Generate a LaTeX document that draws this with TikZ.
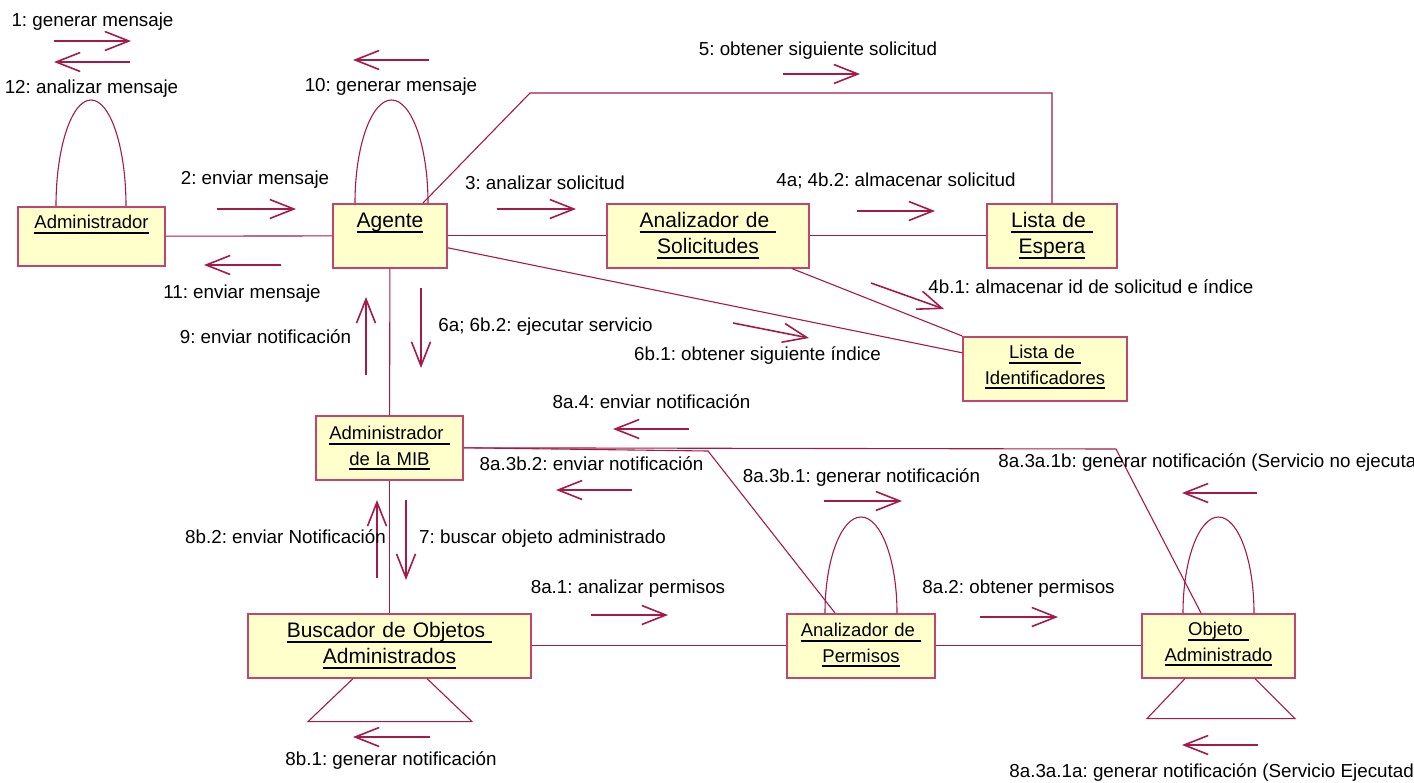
\documentclass[tikz,border=0pt]{standalone}
\usepackage{fontspec}
\setmainfont{Liberation Sans}
\usepackage{xcolor}
\usepackage{tikz}
\usetikzlibrary{arrows.meta}
\frenchspacing

\definecolor{linkred}{RGB}{165,25,75}
\definecolor{boxedge}{RGB}{192,70,110}
\definecolor{boxfill}{RGB}{255,255,204}

% underlined object name, the rule sits a bit below the baseline
\newcommand{\ulin}[1]{\leavevmode\setbox0=\hbox{#1}\rlap{\rule[-2.5pt]{\wd0}{1pt}}\box0}

\begin{document}
\begin{tikzpicture}[x=0.5pt, y=-0.5pt]

% Define styles
\tikzset{
    object/.style={draw=boxedge, fill=boxfill, line width=0.8pt, anchor=north, inner sep=0pt, align=center, text height=12pt, text depth=20pt, font=\fontsize{10.5}{13}\selectfont},
    smallobj/.style={object, font=\fontsize{9.25}{12.75}\selectfont},
    link/.style={draw=linkred, line width=0.55pt},
    msg/.style={draw=linkred, line width=0.8pt, -{Straight Barb[length=12pt, width=9.5pt]}},
    msglabel/.style={anchor=base, inner sep=0pt, font=\fontsize{9.4}{11}\selectfont}
}

\useasboundingbox (0,0) rectangle (1414,782);

% objects
\node[smallobj, text width=73.5pt, text height=11pt, text depth=18.5pt] (adm) at (91.5,206) {\ulin{Administrador}};
\node[object, text width=57pt] (agente) at (390,203) {\ulin{Agente}};
\node[object, text width=101pt] (anaSol) at (708,203) {\ulin{Analizador de }\\\ulin{Solicitudes}};
\node[object, text width=65pt] (listaEsp) at (1052,203) {\ulin{Lista de }\\\ulin{Espera}};
\node[smallobj, text width=82pt, text height=11pt, text depth=21pt] (listaId) at (1045,336) {\ulin{Lista de }\\\ulin{Identificadores}};
\node[smallobj, text width=73.5pt] (mib) at (389.5,415) {\ulin{Administrador }\\\ulin{de la MIB}};
\node[object, text width=141.5pt] (buscador) at (389.5,613) {\ulin{Buscador de Objetos }\\\ulin{Administrados}};
\node[smallobj, text width=74pt, text height=11.5pt, text depth=20.5pt] (anaPerm) at (861,613) {\ulin{Analizador de }\\\ulin{Permisos}};
\node[smallobj, text width=76.5pt, text height=11pt, text depth=21pt] (objeto) at (1218.5,613) {\ulin{Objeto }\\\ulin{Administrado}};

% bends of the long links
\coordinate (bendA) at (530,93);
\coordinate (bendB) at (708,451);
\coordinate (bendC) at (1116,449);

% links between objects
\draw[link] (adm) -- (agente);
\draw[link] (agente) -- (anaSol);
\draw[link] (anaSol) -- (listaEsp);
\draw[link] ([xshift=16.5pt]agente.north) -- (bendA) -| (listaEsp.north);
\draw[link] ([yshift=-6pt]agente.east) -- ([yshift=8pt]listaId.west);
\draw[link] ([xshift=42pt]anaSol.south) -- (listaId.north west);
\draw[link] (agente) -- (mib);
\draw[link] (mib) -- (buscador);
\draw[link] (buscador) -- (anaPerm);
\draw[link] (anaPerm) -- (objeto);
\draw[link] (mib.east) -- (bendB) -- ([xshift=-13pt]anaPerm.north);
\draw[link] (mib.east) -- (bendC) -- ([xshift=-8.75pt]objeto.north);

% self links on top
\draw[link] ([xshift=-17.75pt]adm.north) arc[start angle=180, end angle=0, x radius=17.5pt, y radius=53pt];
\draw[link] ([xshift=-17.5pt]agente.north) arc[start angle=180, end angle=0, x radius=18.25pt, y radius=51.5pt];
\draw[link] ([xshift=-18pt]anaPerm.north) arc[start angle=180, end angle=0, x radius=18pt, y radius=48pt];
\draw[link] ([xshift=-17.75pt]objeto.north) arc[start angle=180, end angle=0, x radius=17.75pt, y radius=48pt];

% self links below
\draw[link] ([xshift=-18.25pt]buscador.south) -- ++(-22.5pt,-21.5pt) -- ++(82pt,0pt) -- ([xshift=18.75pt]buscador.south);
\draw[link] ([xshift=-16.75pt]objeto.south) -- ++(-19pt,-20pt) -- ++(74pt,0pt) -- ([xshift=18.25pt]objeto.south);

% messages
\node[msglabel] (m1) at (92.5,26) {1: generar mensaje};
\draw[msg] (54,41) -- (131,41);
\draw[msg] (130,62) -- (54,62);
\node[msglabel] (m12) at (91.5,93) {12: analizar mensaje};

\draw[msg] (429,60) -- (353,60);
\node[msglabel] (m10) at (391,91) {10: generar mensaje};

\node[msglabel] (m5) at (818,55) {5: obtener siguiente solicitud};
\draw[msg] (783,74) -- (860,74);

\node[msglabel] (m2) at (255,184) {2: enviar mensaje};
\draw[msg] (217,209) -- (296,209);

\draw[msg] (281,265) -- (204,265);
\node[msglabel] (m11) at (242,298) {11: enviar mensaje};

\node[msglabel] (m3) at (545,189) {3: analizar solicitud};
\draw[msg] (497,209) -- (576,209);

\node[msglabel] (m4) at (896,186) {4a; 4b.2: almacenar solicitud};
\draw[msg] (857,211) -- (935,211);

\draw[msg] (871,283) -- (944,309);
\node[msglabel, anchor=base west] (m4b1) at (928,293) {4b.1: almacenar id de solicitud e índice};

\draw[msg] (421,288) -- (421,368);
\node[msglabel] (m6) at (545.5,331) {6a; 6b.2: ejecutar servicio};

\draw[msg] (733,323) -- (809,338);
\node[msglabel] (m6b1) at (757.5,360) {6b.1: obtener siguiente índice};

\draw[msg] (366,375) -- (366,297);
\node[msglabel] (m9) at (265.5,343) {9: enviar notificación};

\node[msglabel] (m8a4) at (651.5,408) {8a.4: enviar notificación};
\draw[msg] (689,429) -- (613,429);

\node[msglabel] (m8a3b2) at (591.5,470) {8a.3b.2: enviar notificación};
\draw[msg] (632,490) -- (556,490);

\node[msglabel] (m8a3b1) at (861.5,482) {8a.3b.1: generar notificación};
\draw[msg] (824,501) -- (902,501);

\node[msglabel, anchor=base west] (m8a3a1b) at (998,467) {8a.3a.1b: generar notificación (Servicio no ejecutado)};
\draw[msg] (1257,493) -- (1182,493);

\draw[msg] (377,578) -- (377,500);
\node[msglabel] (m8b2) at (285.5,543) {8b.2: enviar Notificación};

\draw[msg] (406,500) -- (406,580);
\node[msglabel] (m7) at (542.5,543) {7: buscar objeto administrado};

\node[msglabel] (m8a1) at (628,593) {8a.1: analizar permisos};
\draw[msg] (591,615) -- (668,615);

\node[msglabel] (m8a2) at (1018.5,593) {8a.2: obtener permisos};
\draw[msg] (980,617) -- (1058,617);

\draw[msg] (430,737) -- (353,737);
\node[msglabel] (m8b1) at (391,765) {8b.1: generar notificación};

\draw[msg] (1258,745) -- (1182,745);
\node[msglabel, anchor=base west] (m8a3a1a) at (1009,777) {8a.3a.1a: generar notificación (Servicio Ejecutado)};

\end{tikzpicture}
\end{document}
